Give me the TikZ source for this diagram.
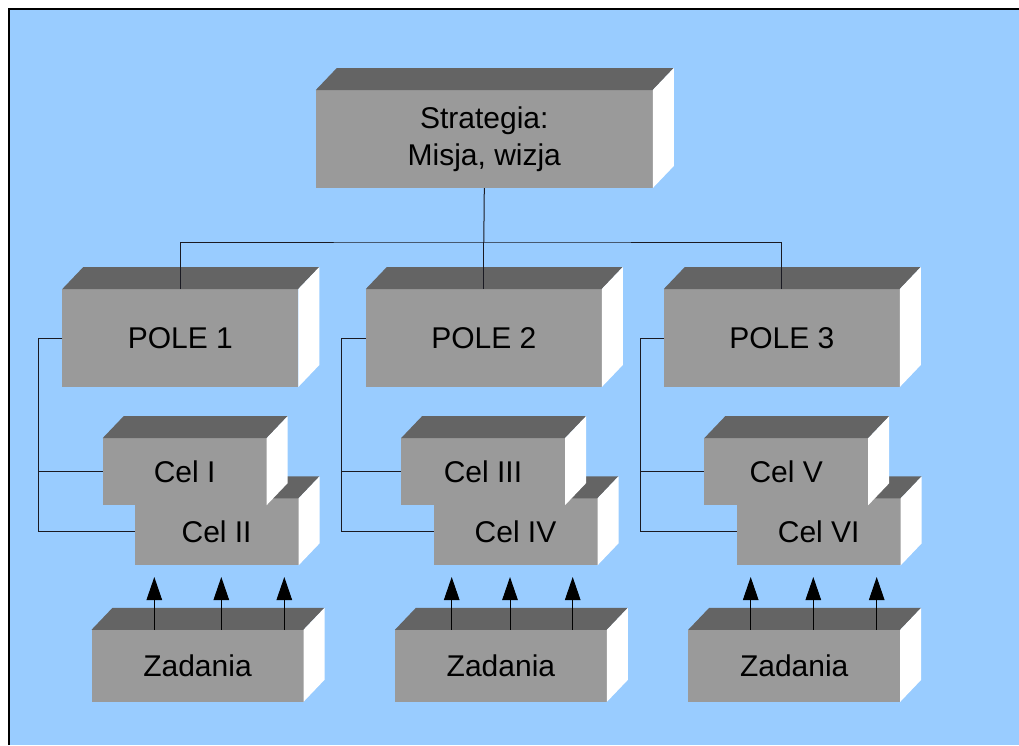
\documentclass[tikz,border=0pt]{standalone}
\usepackage{fontspec}
\setmainfont{Liberation Sans}
\usetikzlibrary{arrows.meta}
\definecolor{bg}{HTML}{99CCFF}
\definecolor{frontc}{HTML}{9A9A9A}
\definecolor{topc}{HTML}{646464}
\definecolor{linec}{HTML}{1A1A22}
\newcommand\dx{21}
\newcommand\dy{22}
\newcommand\cubefaces[1]{%
  \fill[topc] (#1.north west) -- ++(\dx,-\dy) -- ([shift={(\dx,-\dy)}]#1.north east) -- (#1.north east) -- cycle;
  \fill[white] (#1.north east) -- ++(\dx,-\dy) -- ([shift={(\dx,-\dy)}]#1.south east) -- (#1.south east) -- cycle;}
\begin{document}
\begin{tikzpicture}[x=1pt,y=-1pt,
  face/.style={fill=frontc, inner sep=0pt, outer sep=0pt, font=\fontsize{30}{36.6}\selectfont, align=center, text=black},
  polebox/.style={face, minimum width=236pt, minimum height=98pt},
  celbox/.style={face, minimum width=164pt, minimum height=67pt},
  zadbox/.style={face, minimum width=212pt, minimum height=72pt},
  conn/.style={draw=linec, line width=1pt},
  arr/.style={draw=black, line width=1pt, -{Triangle[width=15.5pt,length=23pt]}}]
\useasboundingbox (0,0) rectangle (1019,745);
\fill[bg] (9,9) rectangle (1019,745);
\draw[line width=2pt] (9,745) -- (9,9) -- (1019,9);

% top box
\node[face, minimum width=337pt, minimum height=98pt] (s) at (484.3,139) {Strategia:\\Misja, wizja};
\cubefaces{s}

% poles
\node[polebox] (p1) at (180.3,338) {POLE 1}; \cubefaces{p1}
\node[polebox] (p2) at (483.8,338) {POLE 2}; \cubefaces{p2}
\node[polebox] (p3) at (781.8,338) {POLE 3}; \cubefaces{p3}

% cele (lower first)
\node[celbox] (c2) at (216.6,531.8) {Cel II}; \cubefaces{c2}
\node[celbox] (c1) at (184.6,471.7) {Cel I}; \cubefaces{c1}
\node[celbox] (c4) at (515.5,531.8) {Cel IV}; \cubefaces{c4}
\node[celbox] (c3) at (483.0,471.7) {Cel III}; \cubefaces{c3}
\node[celbox] (c6) at (818.7,531.8) {Cel VI}; \cubefaces{c6}
\node[celbox] (c5) at (786.2,471.7) {Cel V}; \cubefaces{c5}

% zadania
\node[zadbox] (z1) at (197.5,665.8) {Zadania}; \cubefaces{z1}
\node[zadbox] (z2) at (500.9,665.8) {Zadania}; \cubefaces{z2}
\node[zadbox] (z3) at (794.2,665.8) {Zadania}; \cubefaces{z3}

% connectors
\coordinate (bus) at (483.8,242);
\draw[conn] (s.south) -- (bus);
\draw[conn] (p1.north) |- (bus) -| (p3.north);
\draw[conn] (bus) -- (p2.north);

\coordinate (l1) at (38.5,0);
\coordinate (l2) at (341.5,0);
\coordinate (l3) at (640,0);
\draw[conn] (p1.west) -- (p1.west -| l1) -- (c2.west -| l1) -- (c2.west);
\draw[conn] (c1.west -| l1) -- (c1.west);
\draw[conn] (p2.west) -- (p2.west -| l2) -- (c4.west -| l2) -- (c4.west);
\draw[conn] (c3.west -| l2) -- (c3.west);
\draw[conn] (p3.west) -- (p3.west -| l3) -- (c6.west -| l3) -- (c6.west);
\draw[conn] (c5.west -| l3) -- (c5.west);

% arrows
\foreach \n/\x in {a1/154.3, a2/221.3, a3/284.3}{\coordinate (\n) at (\x,577);}
\foreach \n/\x in {b1/451.7, b2/510, b3/572.7}{\coordinate (\n) at (\x,577);}
\foreach \n/\x in {d1/750.7, d2/813.3, d3/876.7}{\coordinate (\n) at (\x,577);}
\foreach \n in {a1,a2,a3}{\draw[arr] (\n |- z1.north) -- (\n);}
\foreach \n in {b1,b2,b3}{\draw[arr] (\n |- z2.north) -- (\n);}
\foreach \n in {d1,d2,d3}{\draw[arr] (\n |- z3.north) -- (\n);}
\end{tikzpicture}
\end{document}
